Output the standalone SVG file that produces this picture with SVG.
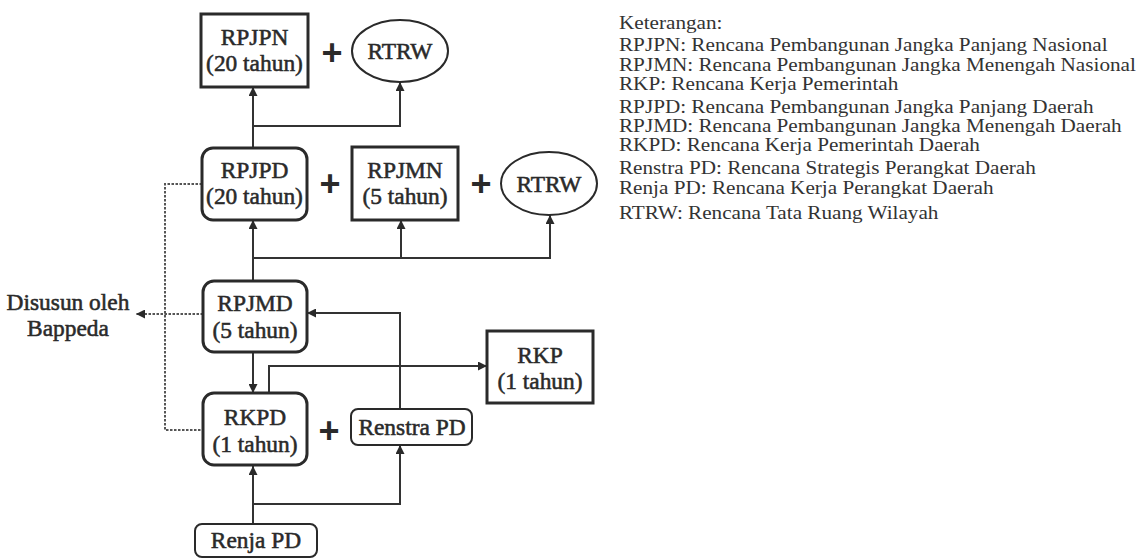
<svg xmlns="http://www.w3.org/2000/svg" width="1142" height="559" viewBox="0 0 1142 559">
<style>
.box{fill:#fff;stroke:#2a2a2a;stroke-width:3}
.thin{fill:#fff;stroke:#2a2a2a;stroke-width:2}
.t{font-family:"Liberation Serif","Times New Roman",serif;font-size:23.4px;fill:#2a2a2a;stroke:#2a2a2a;stroke-width:0.55;text-anchor:middle}
.plus{font-family:"Liberation Sans",Arial,sans-serif;font-size:36px;font-weight:bold;fill:#2a2a2a;text-anchor:middle}
.leg{font-family:"Liberation Serif","Times New Roman",serif;font-size:19px;fill:#333}
.c{fill:none;stroke:#333;stroke-width:2}
.d{fill:none;stroke:#555;stroke-width:2;stroke-dasharray:2.5 1.5}
</style>
<defs>
<marker id="ah" viewBox="0 0 10 10" refX="10" refY="5" markerWidth="9" markerHeight="9" markerUnits="userSpaceOnUse" orient="auto">
<path d="M0,0 L10,5 L0,10 z" fill="#2a2a2a"/>
</marker>
</defs>
<rect width="1142" height="559" fill="#fff"/>
<g id="connectors">
<path class="c" d="M253,148 V87" marker-end="url(#ah)"/>
<path class="c" d="M253,126 H400 V82" marker-end="url(#ah)"/>
<path class="c" d="M253,281 V220" marker-end="url(#ah)"/>
<path class="c" d="M253,258 H401 V220" marker-end="url(#ah)"/>
<path class="c" d="M401,258 H550 V215" marker-end="url(#ah)"/>
<path class="c" d="M253,352 V393" marker-end="url(#ah)"/>
<path class="c" d="M269,393 V366 H487" marker-end="url(#ah)"/>
<path class="c" d="M400,409 V313 H307" marker-end="url(#ah)"/>
<path class="c" d="M253,524 V466" marker-end="url(#ah)"/>
<path class="c" d="M253,504 H400 V445" marker-end="url(#ah)"/>
<path class="d" d="M202,184 H165 V430 H203"/>
<path class="d" d="M203,314 H136" marker-end="url(#ah)"/>
</g>
<g id="rpjpn"><rect class="box" x="201" y="14" width="107" height="73"/><text class="t" x="254.5" y="45">RPJPN</text><text class="t" x="254.5" y="71">(20 tahun)</text></g>
<text class="plus" x="332" y="65">+</text>
<g id="rtrw1"><ellipse class="thin" cx="400" cy="51" rx="48" ry="31"/><text class="t" x="400" y="59">RTRW</text></g>
<g id="rpjpd"><rect class="box" x="202" y="148" width="105" height="72" rx="11"/><text class="t" x="254.5" y="178">RPJPD</text><text class="t" x="254.5" y="204">(20 tahun)</text></g>
<text class="plus" x="330" y="196">+</text>
<g id="rpjmn"><rect class="box" x="352" y="147" width="106" height="73"/><text class="t" x="405" y="178">RPJMN</text><text class="t" x="405" y="204">(5 tahun)</text></g>
<text class="plus" x="481" y="196">+</text>
<g id="rtrw2"><ellipse class="thin" cx="549" cy="183.5" rx="48" ry="31.5"/><text class="t" x="549" y="192">RTRW</text></g>
<g id="rpjmd"><rect class="box" x="203" y="281" width="104" height="71" rx="11"/><text class="t" x="255" y="311">RPJMD</text><text class="t" x="255" y="338">(5 tahun)</text></g>
<g id="rkp"><rect class="box" x="487" y="331" width="106" height="72"/><text class="t" x="540" y="363">RKP</text><text class="t" x="540" y="389">(1 tahun)</text></g>
<g id="rkpd"><rect class="box" x="203" y="393" width="104" height="72" rx="11"/><text class="t" x="255" y="425">RKPD</text><text class="t" x="255" y="452">(1 tahun)</text></g>
<text class="plus" x="329" y="443">+</text>
<g id="renstra"><rect class="thin" x="351" y="409" width="121" height="36" rx="7"/><text class="t" x="412" y="435">Renstra PD</text></g>
<g id="renja"><rect class="thin" x="195" y="524" width="122" height="33" rx="7"/><text class="t" x="256" y="548">Renja PD</text></g>
<g id="bappeda"><text class="t" x="68" y="310">Disusun oleh</text><text class="t" x="68" y="336">Bappeda</text></g>
<g id="legend" transform="translate(619 0) scale(1.115 1)">
<text class="leg" x="0" y="29">Keterangan:</text>
<text class="leg" x="0" y="51">RPJPN: Rencana Pembangunan Jangka Panjang Nasional</text>
<text class="leg" x="0" y="71">RPJMN: Rencana Pembangunan Jangka Menengah Nasional</text>
<text class="leg" x="0" y="90">RKP: Rencana Kerja Pemerintah</text>
<text class="leg" x="0" y="113">RPJPD: Rencana Pembangunan Jangka Panjang Daerah</text>
<text class="leg" x="0" y="132">RPJMD: Rencana Pembangunan Jangka Menengah Daerah</text>
<text class="leg" x="0" y="151">RKPD: Rencana Kerja Pemerintah Daerah</text>
<text class="leg" x="0" y="174">Renstra PD: Rencana Strategis Perangkat Daerah</text>
<text class="leg" x="0" y="194">Renja PD: Rencana Kerja Perangkat Daerah</text>
<text class="leg" x="0" y="219">RTRW: Rencana Tata Ruang Wilayah</text>
</g>
</svg>
